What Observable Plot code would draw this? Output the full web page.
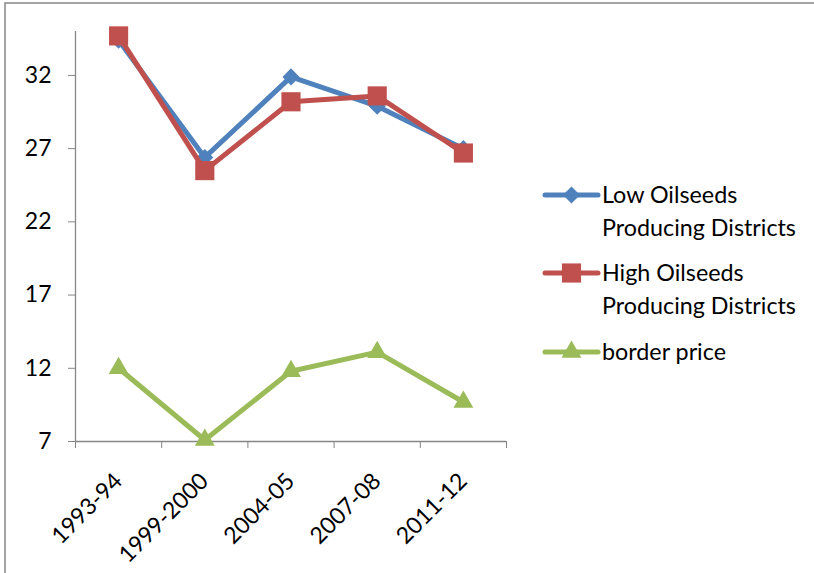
<!DOCTYPE html>
<html><head><meta charset="utf-8">
<script src="https://cdn.jsdelivr.net/npm/d3@7"></script>
<script src="https://cdn.jsdelivr.net/npm/@observablehq/plot@0.6"></script>
<style>body{margin:0;background:#fff;}</style>
</head><body><div id="chart"></div>
<script>
const years = ["1993-94", "1999-2000", "2004-05", "2007-08", "2011-12"];
const lowOilseeds = [34.4, 26.4, 31.9, 29.9, 27.0];
const highOilseeds = [34.7, 25.5, 30.2, 30.6, 26.7];
const borderPrice = [12.0, 7.1, 11.8, 13.1, 9.7];
const yTicks = [7, 12, 17, 22, 27, 32];
const seriesNames = ["Low Oilseeds Producing Districts", "High Oilseeds Producing Districts", "border price"];
const legendLines = [["Low Oilseeds", "Producing Districts"], ["High Oilseeds", "Producing Districts"], ["border price"]];
const colors = ["#4F81BD", "#C0504D", "#9BBB59"];
const symbols = ["diamond2", "square", "triangle"];
const radii = [7.7, 10.8, 7.4];

const seriesValues = [lowOilseeds, highOilseeds, borderPrice];
const rows = seriesValues.map((vals, s) => vals.map((v, i) => ({series: seriesNames[s], year: years[i], i, value: v})));

const axisColor = "#868686";
const font = "Lato, 'Open Sans', sans-serif";
const fs = 23;
const legendFs = 23.3;

const marks = [
  Plot.ruleX([0], {stroke: axisColor, strokeWidth: 1.3}),
  Plot.ruleY([7], {stroke: axisColor, strokeWidth: 1.3}),
  Plot.axisY({ticks: yTicks, tickSize: 7, tickPadding: 17, label: null, stroke: axisColor, fill: "#000", fontSize: fs}),
  Plot.axisX({ticks: [0, 1, 2, 3, 4, 5], tickSize: 7, tickFormat: () => "", label: null, stroke: axisColor}),
  Plot.text(years, {x: (d, i) => i + 0.5, frameAnchor: "bottom", text: d => d, rotate: -45, textAnchor: "end", dx: 5, dy: 41, fontSize: fs, fill: "#000"})
];
rows.forEach((r, s) => {
  marks.push(Plot.line(r, {x: d => d.i + 0.5, y: "value", stroke: colors[s], strokeWidth: 5, strokeLinejoin: "round"}));
  marks.push(Plot.dot(r, {x: d => d.i + 0.5, y: "value", symbol: symbols[s], r: radii[s], fill: colors[s], stroke: "none"}));
});

const plot = Plot.plot({
  width: 814, height: 573,
  marginLeft: 75, marginRight: 308, marginTop: 31, marginBottom: 132,
  style: {fontFamily: font, fontSize: fs + "px", color: "#000", background: "#fff", overflow: "visible"},
  x: {type: "linear", domain: [0, 5], axis: null},
  y: {type: "linear", domain: [7, 35], axis: null},
  marks
});
document.getElementById("chart").appendChild(plot);

const svg = d3.select(plot);
svg.append("path").attr("d", "M5,573V3H814").attr("fill", "none").attr("stroke", "#878787").attr("stroke-width", 1.5);

const legendY = [195, 273, 352];
const symTypes = [d3.symbolDiamond2, d3.symbolSquare, d3.symbolTriangle];
const lg = svg.append("g").attr("font-family", font).attr("font-size", legendFs).attr("text-anchor", "start");
legendLines.forEach((lines, s) => {
  const y = legendY[s];
  lg.append("line").attr("x1", 545).attr("x2", 598).attr("y1", y).attr("y2", y)
    .attr("stroke", colors[s]).attr("stroke-width", 5).attr("stroke-linecap", "round");
  lg.append("path").attr("transform", `translate(571.5,${y})`)
    .attr("d", d3.symbol().type(symTypes[s]).size(Math.PI * radii[s] * radii[s])())
    .attr("fill", colors[s]);
  lines.forEach((t, k) => {
    lg.append("text").attr("x", 602).attr("y", y + k * 33).attr("dy", "0.35em")
      .attr("text-anchor", "start").attr("fill", "#000").text(t);
  });
});
</script>
</body></html>
